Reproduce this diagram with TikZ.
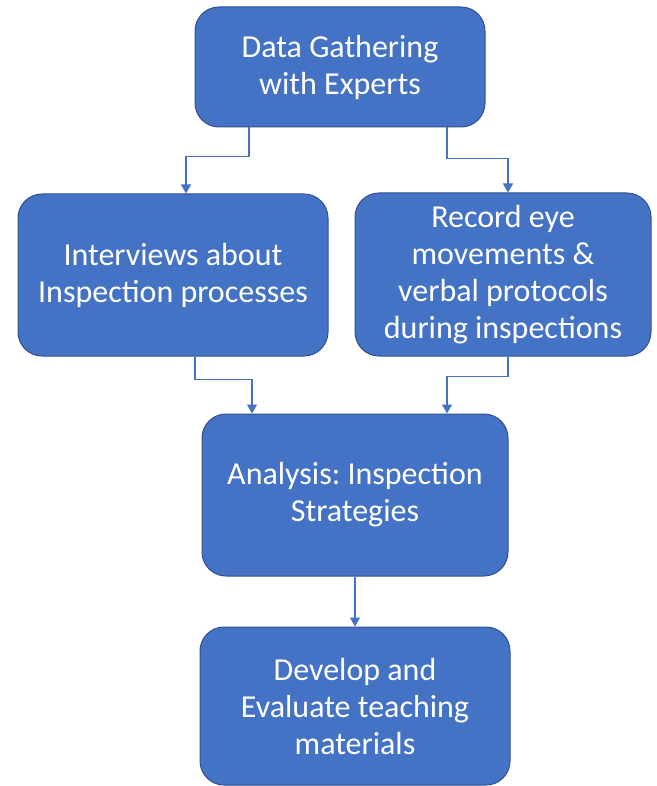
\documentclass[tikz,border=0pt]{standalone}
\usepackage{fontspec}
\setmainfont{Carlito}
\usetikzlibrary{arrows.meta}
\definecolor{boxfill}{HTML}{4472C4}
\definecolor{boxline}{HTML}{2F528F}
\frenchspacing
\begin{document}
\begin{tikzpicture}[x=1pt,y=-1pt,
    stepbox/.style={draw=boxline,line width=1pt,fill=boxfill,rounded corners=24pt,
      text=white,align=center,inner sep=0pt,
      font=\fontsize{32}{37}\selectfont},
    conn/.style={draw=boxfill,line width=1.2pt,-{Triangle[width=10pt,length=9pt]}}]
  \useasboundingbox (0,0) rectangle (656,786);
  \node[stepbox,minimum width=290pt,minimum height=120pt] (top) at (340,67)
    {Data Gathering\\with Experts};
  \node[stepbox,minimum width=310pt,minimum height=162pt] (left) at (173,275)
    {Interviews about\\Inspection processes};
  \node[stepbox,minimum width=296pt,minimum height=163pt] (right) at (503,274.5)
    {Record eye\\movements \&\\verbal protocols\\during inspections};
  \node[stepbox,minimum width=306pt,minimum height=162pt] (mid) at (355,495)
    {Analysis: Inspection\\Strategies};
  \node[stepbox,minimum width=310pt,minimum height=158pt] (bot) at (355,706)
    {Develop and\\Evaluate teaching\\materials};
  \begin{scope}
    \draw[conn] ([xshift=-91pt]top.south) -- ++(0,29) -| ([xshift=13pt]left.north);
    \draw[conn] ([xshift=107pt]top.south) -- ++(0,31) -| ([xshift=5pt]right.north);
    \draw[conn] ([xshift=22pt]left.south) -- ++(0,23) -| ([xshift=-103pt]mid.north);
    \draw[conn] ([xshift=5pt]right.south) -- ++(0,20) -| ([xshift=92pt]mid.north);
    \draw[conn] (mid.south) -- (bot.north);
  \end{scope}
\end{tikzpicture}
\end{document}
